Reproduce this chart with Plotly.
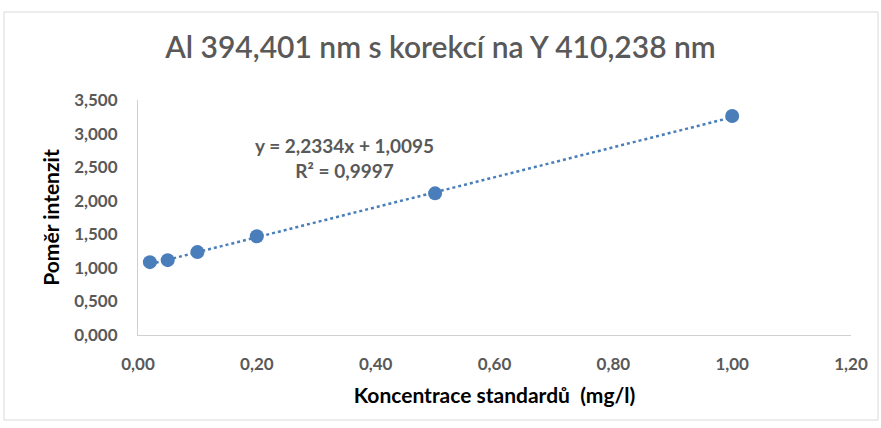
import plotly.graph_objects as go

# Data
conc = [0.02, 0.05, 0.10, 0.20, 0.50, 1.00]
ratio = [1.085, 1.115, 1.235, 1.470, 2.110, 3.262]
trend_slope = 2.2334
trend_intercept = 1.0095
r_squared = 0.9997
x_ticks = [0.0, 0.2, 0.4, 0.6, 0.8, 1.0, 1.2]
x_ticklabels = ["0,00", "0,20", "0,40", "0,60", "0,80", "1,00", "1,20"]
y_ticks = [0.0, 0.5, 1.0, 1.5, 2.0, 2.5, 3.0, 3.5]
y_ticklabels = ["0,000", "0,500", "1,000", "1,500", "2,000", "2,500", "3,000", "3,500"]

blue = "#4a7ebb"
grey = "#595959"
font_family = "Lato, Open Sans, sans-serif"

trend_x = [min(conc), max(conc)]
trend_y = [trend_slope * v + trend_intercept for v in trend_x]

fig = go.Figure()
fig.add_trace(go.Scatter(x=trend_x, y=trend_y, mode="lines",
                         line=dict(color=blue, width=2.5, dash="dot"),
                         showlegend=False, hoverinfo="skip"))
fig.add_trace(go.Scatter(x=conc, y=ratio, mode="markers",
                         marker=dict(color=blue, size=14),
                         showlegend=False))

eq_text = ("y = " + f"{trend_slope:.4f}".replace(".", ",") + "x + " +
           f"{trend_intercept:.4f}".replace(".", ",") +
           "<br>R² = " + f"{r_squared:.4f}".replace(".", ","))
fig.add_annotation(x=0.348, y=2.64, xref="x", yref="y", text="<b>" + eq_text + "</b>",
                   showarrow=False, align="center",
                   font=dict(family=font_family, size=19, color=grey))

fig.update_layout(
    width=881, height=428,
    margin=dict(l=138, r=30, t=100, b=93),
    paper_bgcolor="white", plot_bgcolor="white",
    title=dict(text="Al 394,401 nm s korekcí na Y 410,238 nm",
               x=0.5, xanchor="center", y=0.888, yanchor="middle",
               font=dict(family=font_family, size=30, color=grey, weight=600)),
    font=dict(family=font_family, color=grey),
    xaxis=dict(range=[0, 1.2], tickvals=x_ticks, ticktext=x_ticklabels,
               showgrid=False, zeroline=False, showline=True,
               linecolor="#d0d0d0", linewidth=1, ticks="",
               ticklabelstandoff=14,
               tickfont=dict(family=font_family, size=17, color=grey, weight="bold"),
               title=dict(text="<b>Koncentrace standardů  (mg/l)</b>",
                          font=dict(family=font_family, size=21, color="black"),
                          standoff=14)),
    yaxis=dict(range=[0, 3.5], tickvals=y_ticks, ticktext=y_ticklabels,
               showgrid=False, zeroline=False, showline=True,
               linecolor="#d0d0d0", linewidth=1, ticks="",
               ticklabelstandoff=16,
               tickfont=dict(family=font_family, size=17, color=grey, weight="bold"),
               title=dict(text="<b>Poměr intenzit</b>",
                          font=dict(family=font_family, size=21, color="black"),
                          standoff=8)),
)
fig.add_shape(type="rect", xref="paper", yref="paper",
              x0=-134/713, x1=1 + 27/713, y0=-85/235, y1=1 + 88/235,
              line=dict(color="#d9d9d9", width=1), layer="below")

fig.write_html("out.html", post_script="document.body.style.margin='0';",
               config={"displayModeBar": False})
